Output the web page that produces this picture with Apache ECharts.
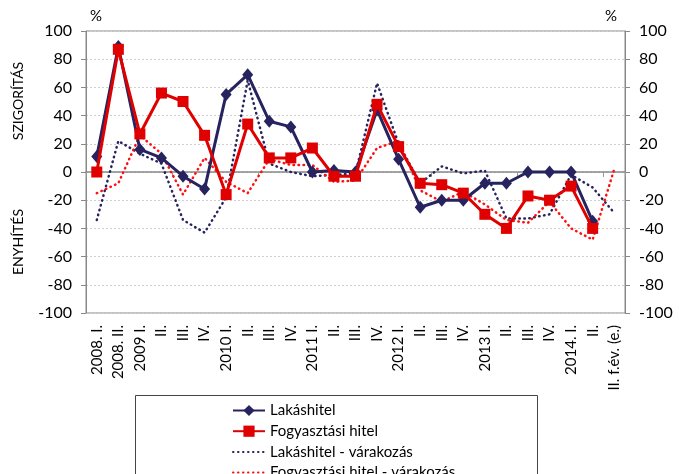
<!DOCTYPE html>
<html>
<head>
<meta charset="utf-8">
<style>
  html, body { margin: 0; padding: 0; background: #fff; }
  #chart { width: 679px; height: 474px; }
</style>
<script src="https://cdn.jsdelivr.net/npm/echarts@6/dist/echarts.min.js"></script>
</head>
<body>
<div id="chart"></div>
<script>
// Negyedéves hitelezési feltételek (nettó arány, %)
var categories = ['2008. I.', '2008. II.', '2009 I.', 'II.', 'III.', 'IV.', '2010 I.', 'II.', 'III.', 'IV.',
  '2011 I.', 'II.', 'III.', 'IV.', '2012 I.', 'II.', 'III.', 'IV.', '2013 I.', 'II.', 'III.', 'IV.',
  '2014. I.', 'II.', 'II. f.év. (e.)'];

var lakashitel = [11, 89, 16, 10, -3, -12, 55, 69, 36, 32, 0, 1, 0, 44, 9, -25, -20, -20, -8, -8, 0, 0, 0, -35, null];
var fogyasztasi = [0, 87, 27, 56, 50, 26, -16, 34, 10, 10, 17, -3, -3, 48, 18, -8, -9, -15, -30, -40, -17, -20, -10, -40, null];
var lakashitelVar = [-34, 22, 13, 6, -34, -43, -18, 65, 6, 0, -3, -2, -1, 63, 20, -8, 4, -1, 1, -33, -33, -30, -2, -11, -29];
var fogyasztasiVar = [-15, -8, 26, 13, -16, 10, -7, -15, 9, 5, 5, -7, -6, 17, 22, -13, -21, -14, -23, -34, -36, -21, -40, -48, 2];

var legendNames = ['Lakáshitel', 'Fogyasztási hitel', 'Lakáshitel - várakozás', 'Fogyasztási hitel - várakozás'];

var yTicks = { min: -100, max: 100, step: 20 };

var NAVY = '#26235f';
var RED = '#e00000';
var RED_DOT = '#ff1010';
var FONT = 'Lato';
var DOTS = [0.5, 4.5];

var chart = echarts.init(document.getElementById('chart'));

function yAxisDef(pos) {
  return {
    type: 'value',
    position: pos,
    min: yTicks.min,
    max: yTicks.max,
    interval: yTicks.step,
    axisLine: { show: true, lineStyle: { color: '#888', width: 1 } },
    axisTick: { show: true, length: 5, lineStyle: { color: '#888' } },
    axisLabel: { color: '#000', fontSize: 16, fontFamily: FONT, margin: 14 },
    splitLine: pos === 'left'
      ? { show: true, lineStyle: { color: '#cfcfcf', type: [2, 2], width: 1 } }
      : { show: false }
  };
}

// one legend row per series, stacked inside the framed box
function legendRow(i) {
  var item = { name: legendNames[i] };
  if (i >= 2) item.itemStyle = { opacity: 0 };
  return {
    orient: 'horizontal',
    left: 227,
    top: 398 + i * 20.7,
    itemWidth: 32,
    itemHeight: 14,
    selectedMode: false,
    textStyle: { color: '#000', fontSize: 15, fontFamily: FONT },
    data: [item]
  };
}

var option = {
  animation: false,
  backgroundColor: '#fff',
  grid: { left: 86, right: 54, top: 31, bottom: 161, show: true, borderColor: '#888', borderWidth: 1, backgroundColor: 'transparent' },
  xAxis: [
    {
      type: 'category',
      data: categories,
      position: 'bottom',
      boundaryGap: true,
      axisLine: { show: false, onZero: false },
      axisTick: { show: false },
      axisLabel: { rotate: 90, interval: 0, color: '#000', fontSize: 15, fontFamily: FONT, margin: 12 },
      splitLine: { show: false }
    },
    {
      type: 'category',
      data: categories,
      position: 'bottom',
      boundaryGap: true,
      axisLine: { show: true, onZero: true, onZeroAxisIndex: 0, lineStyle: { color: '#888', width: 1.5 } },
      axisTick: { show: true, length: 5, lineStyle: { color: '#999' } },
      axisLabel: { show: false },
      splitLine: { show: false }
    }
  ],
  yAxis: [yAxisDef('left'), yAxisDef('right')],
  legend: [legendRow(0), legendRow(1), legendRow(2), legendRow(3)],
  series: [
    {
      name: 'Lakáshitel - várakozás',
      type: 'line',
      data: lakashitelVar,
      symbol: 'none',
      lineStyle: { color: NAVY, width: 2.5, type: DOTS, cap: 'round' },
      itemStyle: { color: NAVY },
      z: 2
    },
    {
      name: 'Fogyasztási hitel - várakozás',
      type: 'line',
      data: fogyasztasiVar,
      symbol: 'none',
      lineStyle: { color: RED_DOT, width: 2.5, type: DOTS, cap: 'round' },
      itemStyle: { color: RED_DOT },
      z: 2
    },
    {
      name: 'Lakáshitel',
      type: 'line',
      data: lakashitel,
      symbol: 'diamond',
      symbolSize: [11, 13],
      showSymbol: true,
      lineStyle: { color: NAVY, width: 3 },
      itemStyle: { color: NAVY },
      z: 3
    },
    {
      name: 'Fogyasztási hitel',
      type: 'line',
      data: fogyasztasi,
      symbol: 'rect',
      symbolSize: 11,
      showSymbol: true,
      lineStyle: { color: RED, width: 3 },
      itemStyle: { color: RED },
      z: 4
    }
  ],
  graphic: [
    { type: 'text', left: 90, top: 9, style: { text: '%', fontSize: 15, fontFamily: FONT, fill: '#000' } },
    { type: 'text', left: 605, top: 9, style: { text: '%', fontSize: 15, fontFamily: FONT, fill: '#000' } },
    { type: 'text', x: 18, y: 101, rotation: Math.PI / 2,
      style: { text: 'SZIGORÍTÁS', fontSize: 14, fontFamily: FONT, fill: '#000', align: 'center', verticalAlign: 'middle' } },
    { type: 'text', x: 18, y: 242, rotation: Math.PI / 2,
      style: { text: 'ENYHÍTÉS', fontSize: 14, fontFamily: FONT, fill: '#000', align: 'center', verticalAlign: 'middle' } },
    { type: 'rect', shape: { x: 135.5, y: 395.5, width: 402, height: 100 },
      style: { fill: 'none', stroke: '#444', lineWidth: 1 }, z: -1 }
  ]
};

chart.setOption(option);
</script>
</body>
</html>
